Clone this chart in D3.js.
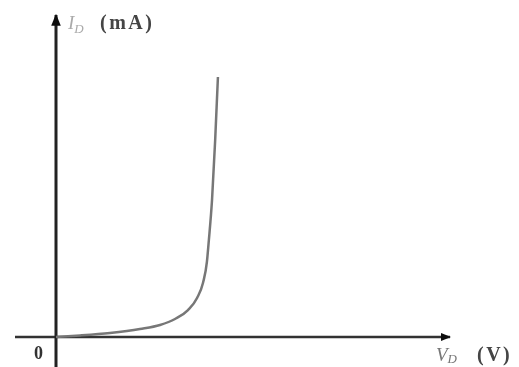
<!DOCTYPE html>
<html>
<head>
<meta charset="utf-8">
<script src="https://cdn.jsdelivr.net/npm/d3@7"></script>
<style>
  body { margin: 0; background: #fff; }
  svg { display: block; }
</style>
</head>
<body>
<svg id="chart" width="519" height="367"></svg>
<script>
// diode curve (V in volts, I in mA, arbitrary scale)
const volts = [0, 0.061, 0.137, 0.213, 0.264, 0.302, 0.335, 0.358, 0.373, 0.383, 0.388, 0.396, 0.404, 0.411];
const amps  = [0, 0.19, 0.50, 0.99, 1.49, 2.24, 3.35, 4.84, 6.71, 9.32, 12.05, 17.02, 24.47, 32.3];
const origin_label = "0";

const svg = d3.select("#chart");

const x = d3.scaleLinear().domain([0, 1]).range([56, 450]);
const y = d3.scaleLinear().domain([0, 40]).range([337, 15]);

// soft blur, the reference is a blurry scan
const defs = svg.append("defs");
defs.append("filter").attr("id", "soft")
  .append("feGaussianBlur").attr("stdDeviation", 0.7);
defs.append("marker")
  .attr("id", "arrow")
  .attr("viewBox", "0 0 10 10")
  .attr("refX", 9).attr("refY", 5)
  .attr("markerWidth", 4).attr("markerHeight", 4)
  .attr("orient", "auto")
  .append("path").attr("d", "M0,1 L10,5 L0,9 z").attr("fill", "#111");

const g = svg.append("g").attr("filter", "url(#soft)");

// axes
g.append("line")
  .attr("x1", 15).attr("x2", x(1))
  .attr("y1", y(0)).attr("y2", y(0))
  .attr("stroke", "#333").attr("stroke-width", 2.5)
  .attr("marker-end", "url(#arrow)");

g.append("line")
  .attr("x1", x(0)).attr("x2", x(0))
  .attr("y1", 367).attr("y2", y(40))
  .attr("stroke", "#222").attr("stroke-width", 3)
  .attr("marker-end", "url(#arrow)");

// the curve
const pts = volts.map((v, i) => [v, amps[i]]);
g.append("path")
  .datum(pts)
  .attr("d", d3.line().x(d => x(d[0])).y(d => y(d[1])).curve(d3.curveMonotoneX))
  .attr("fill", "none")
  .attr("stroke", "#777")
  .attr("stroke-width", 2.5);

// labels
const font = "Liberation Serif, DejaVu Serif, serif";

// axis label: italic symbol + subscript, then the unit in bold
function axis_label(sx, ux, by, sym, sub, unit, symColor, subDy) {
  const t = g.append("text")
    .attr("x", sx).attr("y", by)
    .attr("font-family", font).attr("font-size", 19).attr("font-style", "italic")
    .attr("fill", symColor);
  t.append("tspan").text(sym);
  t.append("tspan").attr("font-size", 13).attr("dy", subDy).text(sub);
  g.append("text")
    .attr("x", ux).attr("y", by)
    .attr("font-family", font).attr("font-size", 20).attr("font-weight", "bold")
    .attr("letter-spacing", 2.5)
    .attr("fill", "#444").text(unit);
}

axis_label(68, 100, 29, "I", "D", "(mA)", "#aaa", 4);
axis_label(436, 477, 361, "V", "D", "(V)", "#777", 2);

g.append("text")
  .attr("x", 34).attr("y", 359)
  .attr("font-family", font).attr("font-size", 18).attr("font-weight", "bold")
  .attr("fill", "#333").text(origin_label);
</script>
</body>
</html>
